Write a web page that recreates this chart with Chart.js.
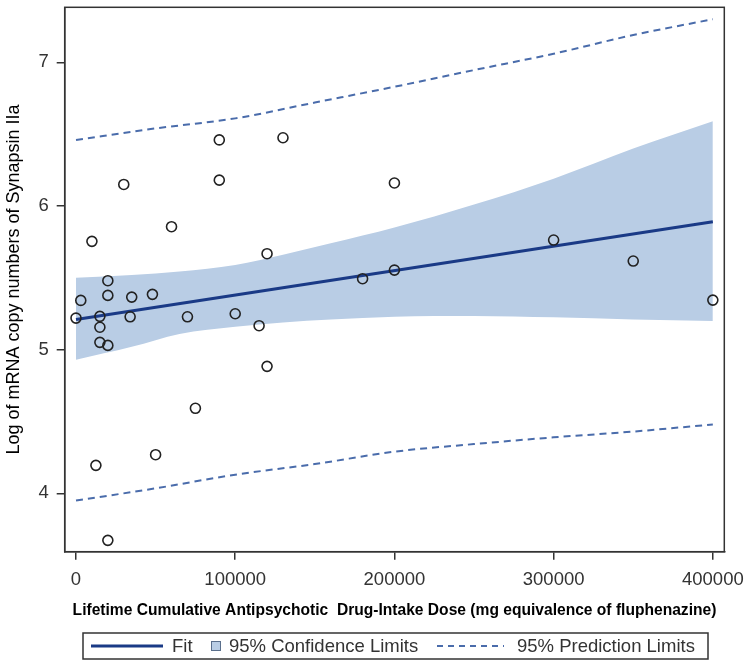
<!DOCTYPE html>
<html>
<head>
<meta charset="utf-8">
<script src="https://cdn.jsdelivr.net/npm/chart.js@4"></script>
<style>
  html, body { margin: 0; padding: 0; background: #fff; }
  #wrap { width: 749px; height: 667px; position: relative; }
</style>
</head>
<body>
<div id="wrap"><canvas id="doseChart"></canvas></div>
<script>
// observed points
const doseX = [90000, 130000, 30000, 90000, 60000, 10000, 120000, 20000, 3000, 20000, 35000, 48000,
  0, 15000, 34000, 70000, 100000, 115000, 15000, 15000, 20000, 120000, 75000, 50000, 12500, 20000,
  200000, 300000, 200000, 180000, 350000, 400000];
const logCopies = [6.46, 6.475, 6.15, 6.18, 5.856, 5.754, 5.668, 5.48, 5.343, 5.378, 5.366, 5.385,
  5.22, 5.232, 5.229, 5.229, 5.25, 5.167, 5.156, 5.051, 5.03, 4.884, 4.592, 4.269, 4.195, 3.673,
  6.16, 5.763, 5.554, 5.494, 5.617, 5.345];

// regression fit
const fitX = [0, 400000];
const fitY = [5.21, 5.89];

// 95% confidence band
const ciX = [0, 35000, 65000, 100000, 130000, 160000, 200000, 250000, 300000, 350000, 400000];
const ciUpper = [5.50, 5.52, 5.545, 5.59, 5.66, 5.74, 5.85, 6.01, 6.19, 6.40, 6.59];
const ciLower = [4.93, 5.02, 5.11, 5.16, 5.19, 5.21, 5.23, 5.235, 5.225, 5.21, 5.20];

// 95% prediction limits
const predX = [0, 50000, 100000, 150000, 200000, 250000, 300000, 350000, 400000];
const predUpper = [6.46, 6.54, 6.61, 6.72, 6.83, 6.946, 7.06, 7.19, 7.30];
const predLower = [3.95, 4.035, 4.13, 4.204, 4.29, 4.343, 4.39, 4.43, 4.48];

const xTicks = [0, 100000, 200000, 300000, 400000];
const yTicks = [4, 5, 6, 7];

const fam = "'Liberation Sans', Arial, sans-serif";
const famNarrow = "'Liberation Sans Narrow', 'Liberation Sans', Arial, sans-serif";
const fitColor = '#1a3a86';
const predColor = '#4a6cab';
const ciColor = '#b9cde5';
const axisColor = '#333';

function toPoints(xs, ys) {
  return xs.map((x, i) => ({ x: x, y: ys[i] }));
}

// box round the plot area
const frame = {
  id: 'frame',
  afterDraw(chart) {
    const a = chart.chartArea, c = chart.ctx;
    c.save();
    c.strokeStyle = axisColor;
    c.lineWidth = 1.5;
    c.strokeRect(a.left, a.top, a.right - a.left, a.bottom - a.top);
    c.restore();
  }
};

// SAS style legend under the axis title
const legendBox = {
  id: 'legendBox',
  afterDraw(chart) {
    const c = chart.ctx;
    const y = 646;
    c.save();
    c.strokeStyle = axisColor;
    c.lineWidth = 1.5;
    c.strokeRect(83, 633, 625, 26);

    c.strokeStyle = fitColor;
    c.lineWidth = 3;
    c.beginPath(); c.moveTo(91, y); c.lineTo(163, y); c.stroke();

    c.fillStyle = ciColor;
    c.fillRect(211.5, 641.5, 9, 9);
    c.strokeStyle = '#5a6f8c';
    c.lineWidth = 1;
    c.strokeRect(211.5, 641.5, 9, 9);

    c.strokeStyle = predColor;
    c.lineWidth = 2;
    c.setLineDash([6, 5]);
    c.beginPath(); c.moveTo(437, y); c.lineTo(504, y); c.stroke();
    c.setLineDash([]);

    c.fillStyle = '#333';
    c.font = '18.5px ' + fam;
    c.textBaseline = 'middle';
    c.fillText('Fit', 172, y + 1);
    c.fillText('95% Confidence Limits', 229, y + 1);
    c.fillText('95% Prediction Limits', 517, y + 1);
    c.restore();
  }
};

new Chart(document.getElementById('doseChart'), {
  type: 'scatter',
  data: {
    datasets: [{
      label: 'ci lower',
      data: toPoints(ciX, ciLower),
      showLine: true,
      borderColor: 'transparent',
      borderWidth: 0,
      pointRadius: 0,
      fill: false,
      cubicInterpolationMode: 'monotone',
      order: 5
    }, {
      label: '95% Confidence Limits',
      data: toPoints(ciX, ciUpper),
      showLine: true,
      borderColor: 'transparent',
      borderWidth: 0,
      pointRadius: 0,
      backgroundColor: ciColor,
      fill: '-1',
      cubicInterpolationMode: 'monotone',
      order: 5
    }, {
      label: '95% Prediction Limits',
      data: toPoints(predX, predUpper),
      showLine: true,
      borderColor: predColor,
      borderWidth: 2,
      borderDash: [7, 5],
      pointRadius: 0,
      cubicInterpolationMode: 'monotone',
      order: 3
    }, {
      label: 'pred lower',
      data: toPoints(predX, predLower),
      showLine: true,
      borderColor: predColor,
      borderWidth: 2,
      borderDash: [7, 5],
      pointRadius: 0,
      cubicInterpolationMode: 'monotone',
      order: 3
    }, {
      label: 'Fit',
      data: toPoints(fitX, fitY),
      showLine: true,
      borderColor: fitColor,
      borderWidth: 3,
      pointRadius: 0,
      order: 2
    }, {
      label: 'Observed',
      data: toPoints(doseX, logCopies),
      pointStyle: 'circle',
      pointRadius: 5,
      borderWidth: 1.6,
      borderColor: '#222',
      backgroundColor: 'transparent',
      order: 1
    }]
  },
  options: {
    responsive: true,
    maintainAspectRatio: false,
    animation: false,
    layout: { padding: { left: 0, top: 7.3, right: 24.7, bottom: 0 } },
    plugins: {
      legend: { display: false },
      tooltip: { enabled: false }
    },
    scales: {
      x: {
        type: 'linear',
        min: -7100,
        max: 407200,
        afterBuildTicks: s => { s.ticks = xTicks.map(v => ({ value: v })); },
        afterFit: s => { s.height = 115.3; s.paddingLeft = 0; s.paddingRight = 0; },
        ticks: {
          font: { family: fam, size: 18.5 },
          color: axisColor,
          padding: 9,
          maxRotation: 0,
          callback: v => String(v)
        },
        grid: { drawOnChartArea: false, tickLength: 8, color: axisColor, lineWidth: 1.5 },
        border: { color: axisColor, width: 1.5 },
        title: {
          display: true,
          text: 'Lifetime Cumulative Antipsychotic  Drug-Intake Dose (mg equivalence of fluphenazine)',
          font: { family: famNarrow, size: 15.6, weight: 'bold' },
          color: '#000',
          padding: { top: 0, bottom: 46.5 }
        }
      },
      y: {
        type: 'linear',
        min: 3.594,
        max: 7.383,
        afterBuildTicks: s => { s.ticks = yTicks.map(v => ({ value: v })); },
        afterFit: s => { s.width = 64.7; s.paddingTop = 0; s.paddingBottom = 0; },
        ticks: {
          font: { family: fam, size: 18.5 },
          color: axisColor,
          padding: 8
        },
        grid: { drawOnChartArea: false, tickLength: 8, color: axisColor, lineWidth: 1.5 },
        border: { color: axisColor, width: 1.5 },
        title: {
          display: true,
          text: 'Log of mRNA copy numbers of Synapsin IIa',
          font: { family: fam, size: 18 },
          color: '#000',
          padding: { top: 3, bottom: 0 }
        }
      }
    }
  },
  plugins: [frame, legendBox]
});
</script>
</body>
</html>
